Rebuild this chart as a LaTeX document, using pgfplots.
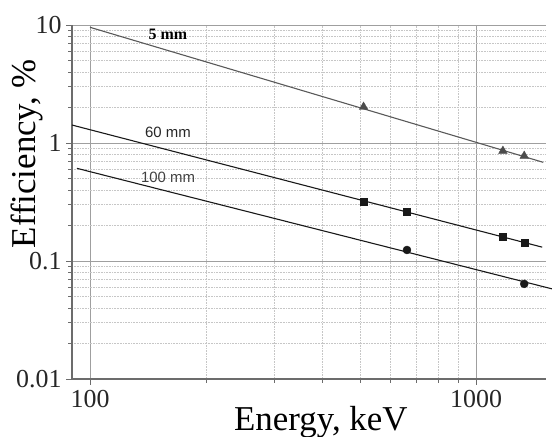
\documentclass[border=0pt]{standalone}
\usepackage{pgfplots}
\pgfplotsset{compat=1.18}
\usepackage{fontspec}
\setmainfont{Liberation Serif}
\newfontfamily\arialfont{Liberation Sans}
\begin{document}
\begin{tikzpicture}
\useasboundingbox (-72bp,-58bp) rectangle (480bp,379bp);
\begin{axis}[
  at={(0,0)}, anchor=south west,
  scale only axis, width=474bp, height=354bp,
  xmode=log, ymode=log,
  xmin=89.8, xmax=1517, ymin=0.01, ymax=10,
  axis x line*=bottom, axis y line*=left,
  axis line style={draw=gray!85!black, line width=1.2bp, -},
  xtick={100,1000}, xticklabels={100,1000},
  ytick={0.01,0.1,1,10}, yticklabels={0.01,0.1,1,10},
  tick align=outside,
  major tick length=6bp, minor tick length=4bp,
  tick style={draw=gray!85!black, line width=0.8bp},
  every tick label/.append style={font=\fontsize{26}{26}\selectfont, text=black!85},
  yticklabel style={xshift=-1bp},
  xticklabel style={yshift=-2bp},
  grid=both,
  major grid style={draw=gray!75, line width=0.9bp, solid},
  minor grid style={draw=gray!45, line width=0.6bp, densely dotted},
  xlabel={Energy, keV}, ylabel={Efficiency, \%},
  xlabel style={at={(axis description cs:0.525,0)}, anchor=base, yshift=-51bp, font=\fontsize{35}{35}\selectfont},
  ylabel style={at={(axis description cs:-0.078,0.636)}, anchor=base, font=\fontsize{35}{35}\selectfont},
  clip=false,
]
% fitted lines
\addplot[draw=black!65, line width=1.1bp] coordinates {(100,9.56) (1492,0.686)};
\addplot[draw=black!90, line width=1.1bp] coordinates {(89.8,1.42) (1483,0.131)};
\addplot[draw=black!90, line width=1.1bp] coordinates {(92.5,0.61) (1574,0.058)};
% measured points
\addplot[only marks, mark=triangle*, mark size=5bp, mark options={fill=black!70, draw=black!70}] coordinates {(511,2.02) (1173,0.855) (1332,0.776)};
\addplot[only marks, mark=square*, mark size=3.5bp, mark options={fill=black!90, draw=black!90}] coordinates {(511,0.32) (662,0.26) (1173,0.16) (1332,0.142)};
\addplot[only marks, mark=*, mark size=4bp, mark options={fill=black!90, draw=black!90}] coordinates {(662,0.124) (1332,0.064)};
\node[anchor=base, font=\fontsize{16}{16}\selectfont\bfseries] at (axis description cs:0.2025,0.960) {5 mm};
\node[anchor=base, font=\arialfont\fontsize{15}{15}\selectfont, text=black!85] at (axis description cs:0.2025,0.681) {60 mm};
\node[anchor=base, font=\arialfont\fontsize{15}{15}\selectfont, text=black!75] at (axis description cs:0.2025,0.554) {100 mm};
\end{axis}
\end{tikzpicture}
\end{document}
